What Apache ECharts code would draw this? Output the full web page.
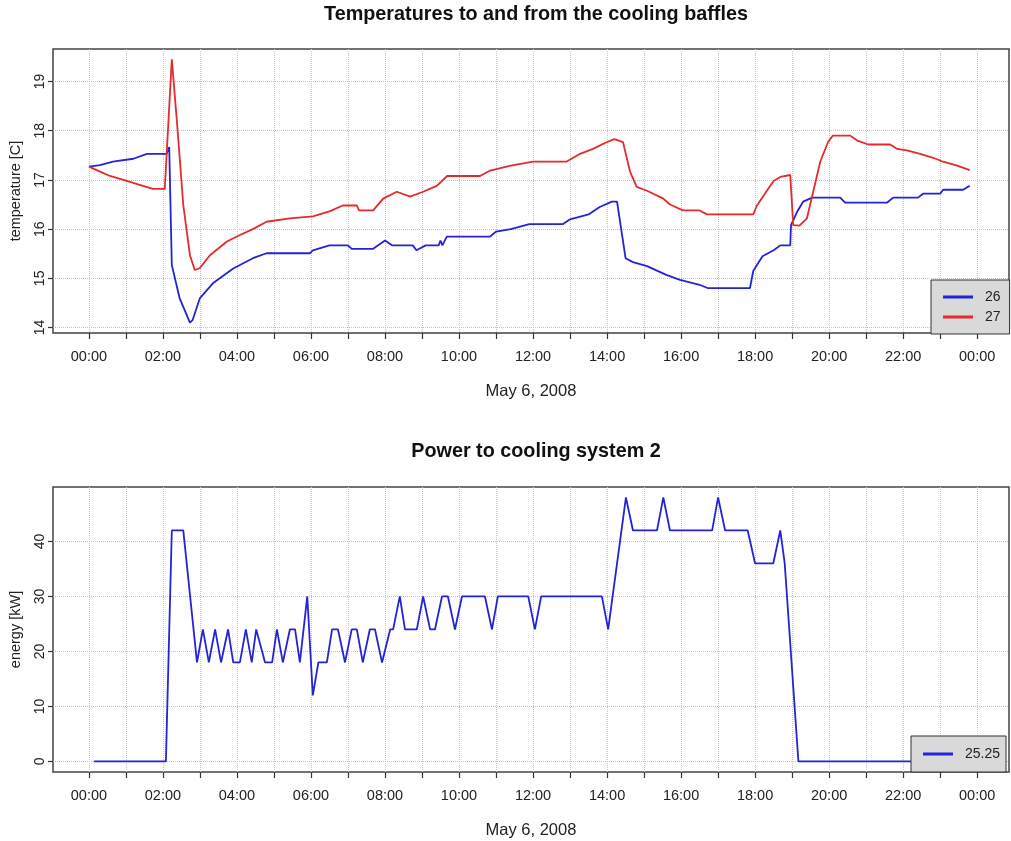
<!DOCTYPE html>
<html><head><meta charset="utf-8">
<script src="https://cdn.jsdelivr.net/npm/echarts@6/dist/echarts.min.js"></script>
<style>html,body{margin:0;padding:0;background:#fff}#c{width:1011px;height:841px}</style>
</head><body><div id="c"></div>
<script>
// ---- data (hours of day, values) ----
const hourTicks = [0,1,2,3,4,5,6,7,8,9,10,11,12,13,14,15,16,17,18,19,20,21,22,23,24];
const labelHours = [0,2,4,6,8,10,12,14,16,18,20,22,24];
const labelText = ['00:00','02:00','04:00','06:00','08:00','10:00','12:00','14:00','16:00','18:00','20:00','22:00','00:00'];
const tempTicks = [14,15,16,17,18,19];
const powerTicks = [0,10,20,30,40];

const t26 = [0,0.3,0.65,1.2,1.57,2.1,2.17,2.24,2.45,2.73,2.8,3.0,3.35,3.9,4.43,4.8,5.97,6.05,6.5,7.0,7.1,7.68,8.0,8.2,8.75,8.85,9.1,9.45,9.5,9.55,9.67,10.84,11.0,11.4,11.9,12.8,13.0,13.5,13.8,14.13,14.27,14.5,14.7,15.08,15.6,15.97,16.5,16.73,17.86,17.95,18.05,18.2,18.5,18.68,18.95,18.97,19.14,19.3,19.54,20.3,20.43,21.57,21.73,22.4,22.54,23.0,23.08,23.62,23.8];
const v26 = [17.27,17.3,17.37,17.43,17.53,17.53,17.67,15.27,14.6,14.1,14.15,14.6,14.9,15.2,15.41,15.51,15.51,15.57,15.67,15.67,15.6,15.6,15.77,15.67,15.67,15.57,15.67,15.67,15.77,15.67,15.85,15.85,15.95,16.0,16.1,16.1,16.2,16.3,16.45,16.56,16.56,15.41,15.33,15.25,15.07,14.97,14.87,14.8,14.8,15.15,15.27,15.45,15.57,15.67,15.67,16.08,16.36,16.56,16.64,16.64,16.54,16.54,16.64,16.64,16.72,16.72,16.8,16.8,16.88];

const t27 = [0,0.3,0.57,1.02,1.46,1.73,2.05,2.24,2.38,2.55,2.73,2.86,3.0,3.27,3.73,4.08,4.43,4.8,5.43,6.05,6.5,6.86,7.24,7.3,7.68,7.95,8.32,8.68,9.03,9.4,9.68,10.57,10.84,11.4,12.0,12.9,13.27,13.62,14.0,14.2,14.43,14.62,14.8,15.08,15.52,15.7,16.05,16.5,16.7,17.95,18.05,18.3,18.5,18.68,18.95,19.03,19.2,19.4,19.57,19.76,19.97,20.1,20.57,20.76,21.06,21.65,21.84,22.1,22.46,22.81,23.08,23.46,23.8];
const v27 = [17.27,17.17,17.08,16.98,16.88,16.82,16.82,19.45,18.17,16.49,15.47,15.17,15.21,15.47,15.75,15.88,16.0,16.15,16.22,16.26,16.36,16.48,16.48,16.38,16.38,16.62,16.76,16.66,16.76,16.88,17.08,17.08,17.19,17.29,17.37,17.37,17.53,17.63,17.77,17.83,17.77,17.17,16.86,16.78,16.62,16.5,16.38,16.38,16.3,16.3,16.48,16.76,16.98,17.06,17.1,16.08,16.07,16.22,16.76,17.37,17.77,17.9,17.9,17.8,17.72,17.72,17.63,17.6,17.53,17.45,17.37,17.29,17.2];

const tPow = [0.14,2.08,2.24,2.55,2.92,3.08,3.24,3.41,3.57,3.76,3.9,4.08,4.24,4.4,4.52,4.76,4.95,5.08,5.24,5.43,5.57,5.7,5.9,6.05,6.2,6.43,6.57,6.73,6.92,7.1,7.24,7.4,7.59,7.73,7.92,8.14,8.22,8.4,8.54,8.86,9.03,9.22,9.35,9.54,9.7,9.89,10.08,10.7,10.89,11.05,11.87,12.05,12.22,13.86,14.03,14.51,14.7,15.35,15.52,15.7,16.84,17.0,17.19,17.8,18.0,18.49,18.68,18.8,19.17,23.83];
const vPow = [0,0,42,42,18,24,18,24,18,24,18,18,24,18,24,18,18,24,18,24,24,18,30,12,18,18,24,24,18,24,24,18,24,24,18,24,24,30,24,24,30,24,24,30,30,24,30,30,24,30,30,24,30,30,24,48,42,42,48,42,42,48,42,42,36,36,42,36,0,0];

function pairs(t, v) { return t.map((x, i) => [x, v[i]]); }

const FONT = 'Liberation Sans, Arial, Helvetica, sans-serif';
const TXT = '#222';
const gridLine = { show: true, lineStyle: { type: 'dotted', color: '#c4c4c4', width: 1 } };

function xAxis(gi) {
  return {
    type: 'value', gridIndex: gi, min: -0.97, max: 24.86,
    axisLine: { show: false, onZero: false },
    axisTick: { show: true, length: 6, customValues: hourTicks, lineStyle: { color: '#333', width: 1.2 } },
    axisLabel: { customValues: labelHours, margin: 16, color: TXT, fontSize: 14.5, fontFamily: FONT,
      formatter: v => labelText[labelHours.indexOf(Math.round(v))] || '' },
    splitLine: gridLine,
    name: 'May 6, 2008', nameLocation: 'middle', nameGap: 50,
    nameTextStyle: { color: TXT, fontSize: 16.5, fontFamily: FONT }
  };
}
function yAxis(gi, min, max, ticks, name) {
  return {
    type: 'value', gridIndex: gi, min: min, max: max,
    axisLine: { show: false, onZero: false },
    axisTick: { show: true, length: 5, customValues: ticks, lineStyle: { color: '#333', width: 1.2 } },
    axisLabel: { customValues: ticks, rotate: 90, margin: 6, color: TXT, fontSize: 14, fontFamily: FONT },
    splitLine: gridLine,
    name: name, nameLocation: 'middle', nameRotate: 90, nameGap: 30,
    nameTextStyle: { color: TXT, fontSize: 14.5, fontFamily: FONT }
  };
}
const legendBase = {
  orient: 'vertical', icon: 'rect', itemWidth: 30, itemHeight: 3, itemGap: 6,
  backgroundColor: '#d9d9d9', borderColor: '#333', borderWidth: 1, borderRadius: 0,
  textStyle: { color: TXT, fontSize: 14, fontFamily: FONT, padding: [0, 0, 0, 7] }
};

const chart = echarts.init(document.getElementById('c'), null, { renderer: 'canvas' });
chart.setOption({
  animation: false,
  backgroundColor: '#fff',
  title: [
    { text: 'Temperatures to and from the cooling baffles', left: 531, top: 0, textAlign: 'center',
      textStyle: { fontSize: 19.8, fontWeight: 'bold', color: '#111', fontFamily: FONT } },
    { text: 'Power to cooling system 2', left: 531, top: 437, textAlign: 'center',
      textStyle: { fontSize: 19.8, fontWeight: 'bold', color: '#111', fontFamily: FONT } }
  ],
  grid: [
    { left: 53, top: 49, width: 956, height: 284, show: true, borderColor: '#444', borderWidth: 1.5, backgroundColor: 'transparent' },
    { left: 53, top: 487, width: 956, height: 285, show: true, borderColor: '#444', borderWidth: 1.5, backgroundColor: 'transparent' }
  ],
  xAxis: [xAxis(0), xAxis(1)],
  yAxis: [
    yAxis(0, 13.89, 19.66, tempTicks, 'temperature [C]'),
    yAxis(1, -1.92, 49.9, powerTicks, 'energy [kW]')
  ],
  legend: [
    Object.assign({}, legendBase, { data: ['26', '27'], left: 931, top: 280, padding: [10, 9, 10, 12] }),
    Object.assign({}, legendBase, { data: ['25.25'], left: 911, top: 736, padding: [11, 6, 11, 12] })
  ],
  series: [
    { name: '26', type: 'line', xAxisIndex: 0, yAxisIndex: 0, data: pairs(t26, v26), showSymbol: false,
      color: '#2323d8', lineStyle: { width: 1.8, color: '#2323d8' } },
    { name: '27', type: 'line', xAxisIndex: 0, yAxisIndex: 0, data: pairs(t27, v27), showSymbol: false,
      color: '#e62a2a', lineStyle: { width: 1.8, color: '#e62a2a' } },
    { name: '25.25', type: 'line', xAxisIndex: 1, yAxisIndex: 1, data: pairs(tPow, vPow), showSymbol: false,
      color: '#2323d8', lineStyle: { width: 1.8, color: '#2323d8' } }
  ]
});
</script>
</body></html>
